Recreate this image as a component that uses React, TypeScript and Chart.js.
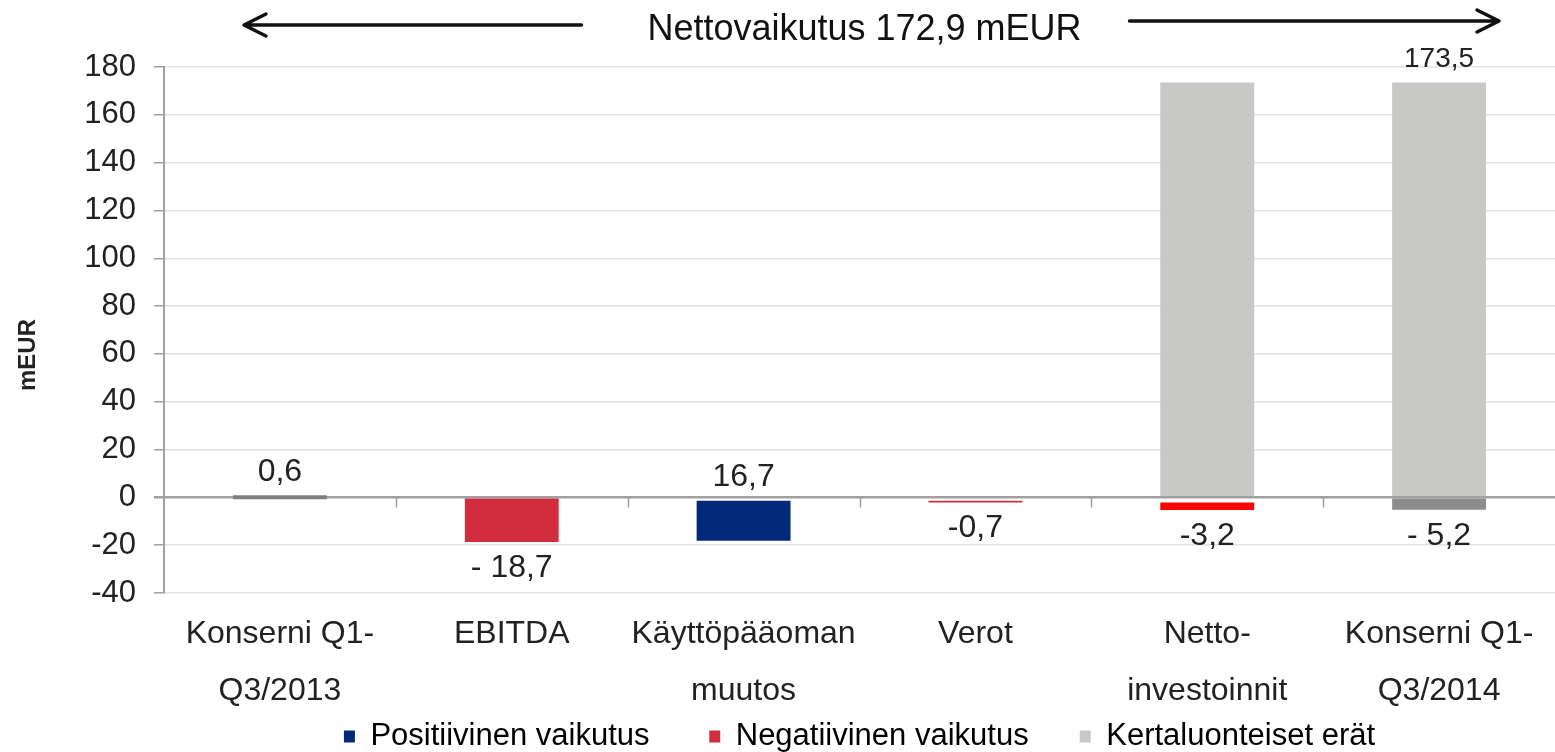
import React, { useEffect, useRef } from "react";
import { Chart, registerables } from "chart.js";

Chart.register(...registerables);

const FONT = "'Liberation Sans', Arial, Helvetica, sans-serif";

// ---- data ----
const categories: (string | string[])[] = [
  ["Konserni Q1-", "Q3/2013"],
  "EBITDA",
  ["Käyttöpääoman", "muutos"],
  "Verot",
  ["Netto-", "investoinnit"],
  ["Konserni Q1-", "Q3/2014"],
];
const legendNames = ["Positiivinen vaikutus", "Negatiivinen vaikutus", "Kertaluonteiset erät"];
const legendColors = ["#00297a", "#d22d3c", "#c8c8c6"];
const positiveBars = [null, null, [-18.1, -1.4], null, null, null];
const negativeBars = [null, [0, -18.7], null, [-1.4, -2.1], [-2.1, -5.3], null];
const oneOffBars = [null, null, null, null, [0, 173.5], [0, 173.5]];
const totalBars = [[0, 0.6], null, null, null, null, [0, -5.2]];
const changeLabels = ["0,6", "- 18,7", "16,7", "-0,7", "-3,2", "- 5,2"];
const changeLabelAnchors = [0.6, -18.7, -1.4, -2.1, -5.3, -5.2];
const totalLabel = "173,5";
const totalLabelAnchor = 173.5;
const totalLabelIndex = 5;
const yMin = -40;
const yMax = 180;
const yStep = 20;
const titleText = "Nettovaikutus 172,9 mEUR";
const axisTitle = "mEUR";

const overlayPlugin = {
  id: "overlay",
  afterDatasetsDraw(chart: any) {
    const { ctx, chartArea, scales } = chart;
    const xs = scales.x;
    const ys = scales.y;
    ctx.save();
    // tick marks on the zero line
    const y0 = ys.getPixelForValue(0);
    const cw = chartArea.width / categories.length;
    ctx.strokeStyle = "#a0a0a0";
    ctx.lineWidth = 1.5;
    for (let i = 1; i < categories.length; i++) {
      const px = Math.round(chartArea.left + i * cw) + 0.5;
      ctx.beginPath();
      ctx.moveTo(px, y0);
      ctx.lineTo(px, y0 + 10);
      ctx.stroke();
    }
    // value labels
    ctx.fillStyle = "#222";
    ctx.font = `32px ${FONT}`;
    ctx.textAlign = "center";
    ctx.textBaseline = "middle";
    changeLabels.forEach((t, i) => {
      const p = ys.getPixelForValue(changeLabelAnchors[i]);
      const below = t.trim().startsWith("-");
      ctx.fillText(t, xs.getPixelForValue(i), below ? p + 26 : p - 24);
    });
    const tp = ys.getPixelForValue(totalLabelAnchor);
    ctx.font = `28px ${FONT}`;
    ctx.fillText(totalLabel, xs.getPixelForValue(totalLabelIndex), tp - 23);
    ctx.restore();
  },
  afterDraw(chart: any) {
    const { ctx, chartArea } = chart;
    const cx = (chartArea.left + chartArea.right) / 2;
    ctx.save();
    // title
    ctx.fillStyle = "#111";
    ctx.font = `36px ${FONT}`;
    ctx.textAlign = "center";
    ctx.textBaseline = "middle";
    ctx.fillText(titleText, cx + 5, 30);
    // arrows
    ctx.strokeStyle = "#111";
    ctx.lineWidth = 3.5;
    ctx.lineCap = "round";
    ctx.lineJoin = "round";
    const drawArrow = (x1: number, x2: number, yy: number) => {
      const dir = x2 > x1 ? 1 : -1;
      ctx.beginPath();
      ctx.moveTo(x1, yy);
      ctx.lineTo(x2, yy);
      ctx.moveTo(x2 - dir * 22, yy - 11);
      ctx.lineTo(x2, yy);
      ctx.lineTo(x2 - dir * 22, yy + 11);
      ctx.stroke();
    };
    drawArrow(cx - 278, chartArea.left + 80, 25);
    drawArrow(cx + 270, chartArea.right - 56, 21);
    // y axis title
    ctx.translate(28, 355);
    ctx.rotate(-Math.PI / 2);
    ctx.font = `bold 24px ${FONT}`;
    ctx.fillStyle = "#222";
    ctx.fillText(axisTitle, 0, 0);
    ctx.restore();
  },
};

export default function App() {
  const ref = useRef<HTMLCanvasElement>(null);
  useEffect(() => {
    document.body.style.margin = "0";
    const canvas = ref.current!;
    const negColor = (c: any) => (c.dataIndex === 4 ? "#ff0000" : "#d22d3c");
    const totColor = (c: any) => (c.dataIndex === 0 ? "#7f7f7f" : "#8c8c8c");
    const common = { grouped: false, categoryPercentage: 1, barPercentage: 0.405, borderWidth: 0 };
    const gaps = ["      ", "     ", ""];
    const chart = new Chart(canvas, {
      type: "bar",
      data: {
        labels: categories as any,
        datasets: [
          { label: legendNames[0], data: positiveBars as any, backgroundColor: legendColors[0], ...common },
          { label: legendNames[1], data: negativeBars as any, backgroundColor: negColor, ...common },
          { label: legendNames[2], data: oneOffBars as any, backgroundColor: legendColors[2], ...common },
          { label: "total", data: totalBars as any, backgroundColor: totColor, minBarLength: 4, ...common },
        ],
      },
      options: {
        responsive: false,
        animation: false,
        layout: { padding: { top: 67, right: 0, left: 0, bottom: -10 } },
        plugins: {
          title: { display: false },
          tooltip: { enabled: false },
          legend: {
            position: "bottom",
            fullSize: false,
            labels: {
              boxWidth: 11,
              boxHeight: 12,
              padding: 8,
              color: "#222",
              font: { family: FONT, size: 31 },
              generateLabels: () =>
                legendNames.map((n, i) => ({
                  text: n + gaps[i],
                  fillStyle: legendColors[i],
                  strokeStyle: legendColors[i],
                  lineWidth: 0,
                  datasetIndex: i,
                  hidden: false,
                })),
            },
          },
        },
        scales: {
          x: {
            afterFit: (s: any) => {
              s.height = 120;
            },
            grid: { display: false },
            border: { display: false },
            ticks: {
              color: "#222",
              padding: 4,
              maxRotation: 0,
              autoSkip: false,
              font: { family: FONT, size: 32, lineHeight: 1.8 },
            },
          },
          y: {
            min: yMin,
            max: yMax,
            afterFit: (s: any) => {
              s.width = 164;
            },
            ticks: {
              stepSize: yStep,
              color: "#222",
              padding: 18,
              font: { family: FONT, size: 31 },
            },
            grid: {
              color: (c: any) => (c.tick && c.tick.value === 0 ? "#a0a0a0" : "#e2e2de"),
              lineWidth: (c: any) => (c.tick && c.tick.value === 0 ? 2.5 : 1.5),
              tickColor: "#a0a0a0",
              tickLength: 10,
              drawTicks: true,
            },
            border: { color: "#a0a0a0", width: 2 },
          },
        },
      },
      plugins: [overlayPlugin],
    });
    return () => chart.destroy();
  }, []);
  return (
    <div style={{ width: 1555, height: 752 }}>
      <canvas ref={ref} width={1555} height={752} />
    </div>
  );
}
